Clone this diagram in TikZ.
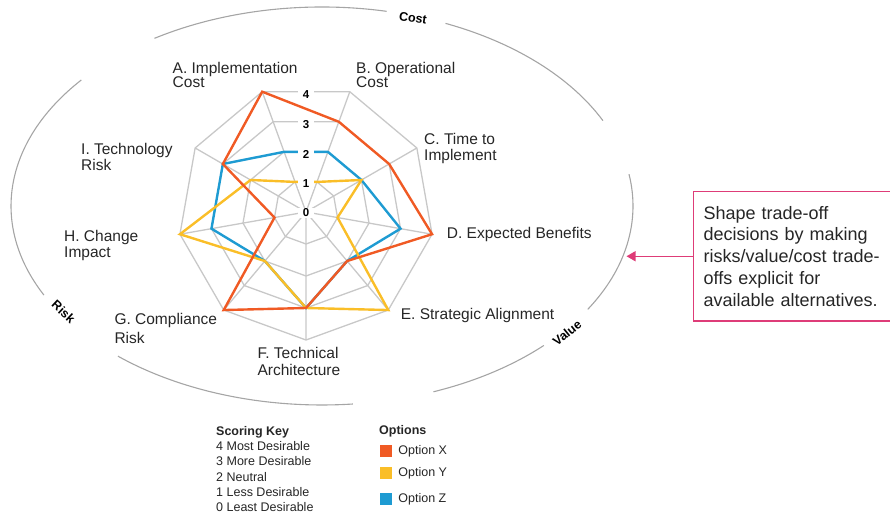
\documentclass[tikz,border=0pt]{standalone}
\usepackage{fontspec}
\setmainfont{Liberation Sans}
\usetikzlibrary{positioning}
\usetikzlibrary{arrows.meta}
\definecolor{optx}{RGB}{240,90,36}
\definecolor{opty}{RGB}{250,190,40}
\definecolor{optz}{RGB}{30,155,210}
\definecolor{webgray}{RGB}{200,200,200}
\definecolor{rimgray}{RGB}{165,165,165}
\definecolor{notepink}{RGB}{222,60,120}
\tikzset{web/.style={draw=webgray, line width=1.3pt, line join=round},
 rim/.style={draw=rimgray, line width=1.1pt},
 trace/.style={draw=#1, line width=2.4pt, line join=miter},
 axislabel/.style={anchor=north west, align=left, inner sep=0pt, text=black!85,
  font=\fontsize{15.5}{16}\selectfont},
 scorelabel/.style={fill=white, inner xsep=5pt, inner ysep=1pt,
  font=\bfseries\fontsize{11.5}{12}\selectfont},
 axisgroup/.style={inner sep=1pt, font=\bfseries\fontsize{12.5}{13}\selectfont},
 keybox/.style={fill=#1, minimum size=12pt, inner sep=0pt},
 keytext/.style={inner sep=0pt, text=black!85, font=\fontsize{12.5}{15.3}\selectfont},
 note/.style={anchor=west, draw=notepink, line width=1.3pt, minimum height=129.5pt,
  text width=190pt, inner xsep=10pt, align=left, text=black!85,
  font=\fontsize{18}{21.7}\selectfont},
 pointer/.style={draw=notepink, line width=1.3pt, -{Triangle[length=9pt,width=10pt]}},
 }

\begin{document}
\begin{tikzpicture}[x=1pt, y=1pt]
    \useasboundingbox (0,0) rectangle (890,518);
    % outer ellipse, broken where the group names sit
    \coordinate (ec) at (322,312);
    \draw[rim] ([shift={(25.4:311pt and 199pt)}]ec) arc[start angle=25.4, end angle=66.6, x radius=311pt, y radius=199pt];
    \draw[rim] ([shift={(78:311pt and 199pt)}]ec) arc[start angle=78, end angle=122.6, x radius=311pt, y radius=199pt];
    \draw[rim] ([shift={(140.7:311pt and 199pt)}]ec) arc[start angle=140.7, end angle=206.6, x radius=311pt, y radius=199pt];
    \draw[rim] ([shift={(229:311pt and 199pt)}]ec) arc[start angle=229, end angle=275.7, x radius=311pt, y radius=199pt];
    \draw[rim] ([shift={(291:311pt and 199pt)}]ec) arc[start angle=291, end angle=315.5, x radius=311pt, y radius=199pt];
    \draw[rim] ([shift={(328.7:311pt and 199pt)}]ec) arc[start angle=328.7, end angle=369.2, x radius=311pt, y radius=199pt];
    \node[axisgroup, rotate=-9] (cost) at (413,500) {Cost};
    \node[axisgroup, rotate=39] (value) at (567,185) {Value};
    \node[axisgroup, rotate=-43] (risk) at (63.5,206.3) {Risk};

    % radar web
    \begin{scope}[shift={(306,306)}, x=32pt, y=32pt]
        \draw[web] (110:4) -- (70:4) -- (30:4) -- (-10:4) -- (-50:4) -- (-90:4) -- (-130:4) -- (-170:4) -- (150:4) -- cycle;
        \draw[web] (110:3) -- (70:3) -- (30:3) -- (-10:3) -- (-50:3) -- (-90:3) -- (-130:3) -- (-170:3) -- (150:3) -- cycle;
        \draw[web] (110:2) -- (70:2) -- (30:2) -- (-10:2) -- (-50:2) -- (-90:2) -- (-130:2) -- (-170:2) -- (150:2) -- cycle;
        \draw[web] (110:1) -- (70:1) -- (30:1) -- (-10:1) -- (-50:1) -- (-90:1) -- (-130:1) -- (-170:1) -- (150:1) -- cycle;
        \draw[web] (0,0) -- (110:4) (0,0) -- (70:4) (0,0) -- (30:4) (0,0) -- (-10:4) (0,0) -- (-50:4)
            (0,0) -- (-90:4) (0,0) -- (-130:4) (0,0) -- (-170:4) (0,0) -- (150:4);
        % options
        \draw[trace=optz] (110:2) -- (70:2) -- (30:2) -- (-10:3) -- (-50:2) -- (-90:3) -- (-130:2) -- (-170:3) -- (150:3) -- cycle;
        \draw[trace=opty] (110:1) -- (70:1) -- (30:2) -- (-10:1) -- (-50:4) -- (-90:3) -- (-130:2) -- (-170:4) -- (150:2) -- cycle;
        \draw[trace=optx] (110:4) -- (70:3) -- (30:3) -- (-10:4) -- (-50:2) -- (-90:3) -- (-130:4) -- (-170:1) -- (150:3) -- cycle;
        \node[scorelabel, yshift=-1pt] (s0) at (0,0) {0};
        \node[scorelabel, yshift=-2pt] (s1) at (0,0.94) {1};
        \node[scorelabel, yshift=-3pt] (s2) at (0,1.879) {2};
        \node[scorelabel, yshift=-3pt] (s3) at (0,2.819) {3};
        \node[scorelabel, yshift=-3pt] (s4) at (0,3.759) {4};
    \end{scope}

    \node[axislabel] (la) at (172.5,456.3) {A. Implementation\\[-1.5pt]Cost};
    \node[axislabel] (lb) at (356,456.3) {B. Operational\\[-1.5pt]Cost};
    \node[axislabel] (lc) at (424,384.7) {C. Time to\\Implement};
    \node[axislabel] (ld) at (446.7,291.3) {D. Expected Benefits};
    \node[axislabel] (le) at (400.7,209.7) {E. Strategic Alignment};
    \node[axislabel] (lf) at (257.3,171.3) {F. Technical\\[1.5pt]Architecture};
    \node[axislabel] (lg) at (114.3,204.7) {G. Compliance\\[2.5pt]Risk};
    \node[axislabel] (lh) at (64,288) {H. Change\\Impact};
    \node[axislabel] (li) at (81,375.3) {I. Technology\\Risk};

    % keys
    \node[keytext, anchor=north west, align=left] (scoring) at (216,92) {\textbf{Scoring Key}\\4 Most Desirable\\3 More Desirable\\2 Neutral\\1 Less Desirable\\0 Least Desirable};
    \node[keytext, anchor=north west, font=\bfseries\fontsize{12.5}{15}\selectfont] (options) at (379,93) {Options};
    \node[keybox=optx] (kx) at (386,67) {};
    \node[keybox=opty] (ky) at (386,44.7) {};
    \node[keybox=optz] (kz) at (386,19) {};
    \node[keytext, right=6pt of kx] (tx) {Option X};
    \node[keytext, right=6pt of ky] (ty) {Option Y};
    \node[keytext, right=6pt of kz] (tz) {Option Z};

    % call-out
    \node[note] (note) at (693,261.75) {Shape trade-off\\decisions by making\\risks/value/cost trade-\\offs explicit for\\available alternatives.};
    \coordinate (valuept) at (626.5,261.75);
    \draw[pointer] (note.west) -- (valuept);
\end{tikzpicture}
\end{document}
